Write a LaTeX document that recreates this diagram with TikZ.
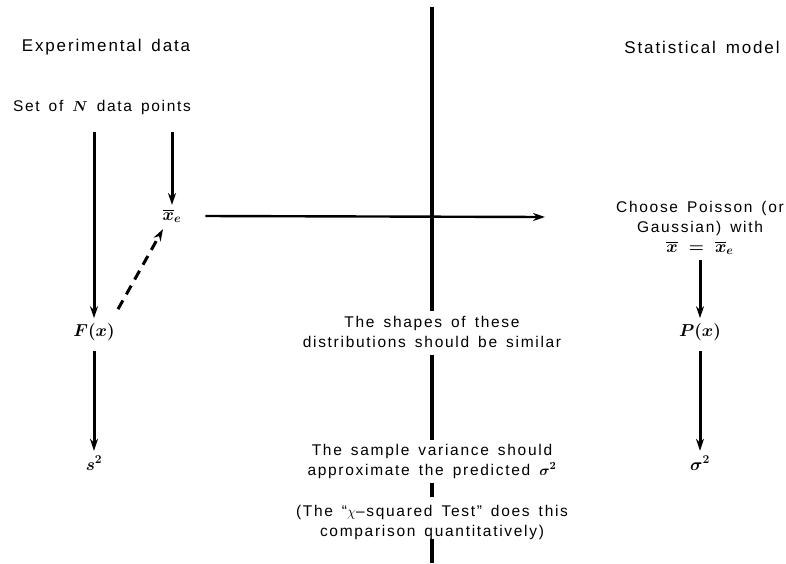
\documentclass[tikz,border=0pt]{standalone}
\usepackage{amsmath}
\usepackage{fontspec}
\setmainfont{Liberation Sans}[LetterSpace=11,WordSpace=1.5]
\usetikzlibrary{arrows.meta}
\begin{document}
\begin{tikzpicture}[x=1pt,y=-1pt,
  lbl/.style={font=\fontsize{15.5}{20}\selectfont, align=center, inner sep=1pt},
  ttl/.style={font=\fontsize{17}{18}\selectfont, inner sep=2pt},
  mth/.style={font=\fontsize{17}{18}\selectfont, inner sep=2pt},
  arr/.style={line width=3pt, -{Stealth[length=12pt,width=8pt]}},
  ln/.style={line width=3.2pt},
  dsh/.style={line width=3pt, dash pattern=on 10pt off 7pt, -{Stealth[length=12pt,width=8pt]}}]
\useasboundingbox (0,0) rectangle (786,563);
% titles
\node[ttl] (ttlL) at (106,47) {Experimental data};
\node[ttl] (ttlR) at (702,47) {Statistical model};
% left column
\node[lbl] (set) at (102,107) {Set of $\boldsymbol{N}$ data points};
\node[mth] (Fx) at (94,332) {$\boldsymbol{F(x)}$};
\node[mth] (xe) at (172,216) {$\boldsymbol{\overline{x}_e}$};
\node[mth] (s2) at (94,463) {$\boldsymbol{s^{2}}$};
% right column
\node[lbl] (choose) at (700,228) {Choose Poisson (or\\Gaussian) with\\{\fontsize{18}{20}\selectfont$\boldsymbol{\overline{x}\;=\;\overline{x}_e}$}};
\node[mth] (Px) at (700,332) {$\boldsymbol{P(x)}$};
\node[mth] (sig) at (700,463) {$\boldsymbol{\sigma^{2}}$};
% centre texts
\node[lbl] (shapes) at (432,332) {The shapes of these\\distributions should be similar};
\node[lbl] (var) at (432,461) {The sample variance should\\approximate the predicted $\boldsymbol{\sigma^{2}}$};
\node[lbl] (chi) at (432,522) {(The ``$\chi$--squared Test'' does this\\comparison quantitatively)};
\coordinate (top) at (432,7);
\coordinate (bot) at (432,563);
\coordinate (harr) at (545,217);
% vertical divider
\draw[ln] (top) -- ([shift={(0,-4)}]shapes.north);
\draw[ln] ([shift={(0,6)}]shapes.south) -- ([shift={(0,-3)}]var.north);
\draw[ln] ([shift={(0,4)}]var.south) -- ([shift={(0,-7)}]chi.north);
\draw[ln] ([shift={(0,-1)}]chi.south) -- (bot);
% arrows
\draw[arr] (set.south -| Fx.north) ++(0,17) -- ([shift={(0,-3)}]Fx.north);
\draw[arr] (set.south -| xe.north) ++(0,17) -- ([shift={(0,-2)}]xe.north);
\draw[arr, line width=2.4pt] ([shift={(22,0)}]xe.east) -- (harr);
\draw[dsh] ([shift={(24,-12)}]Fx.north) -- ([shift={(-9,4)}]xe.south);
\draw[arr] ([shift={(0,8)}]Fx.south) -- ([shift={(0,-3)}]s2.north);
\draw[arr] ([shift={(0,4)}]choose.south) -- ([shift={(0,-3)}]Px.north);
\draw[arr] ([shift={(0,8)}]Px.south) -- ([shift={(0,-3)}]sig.north);
\end{tikzpicture}
\end{document}
